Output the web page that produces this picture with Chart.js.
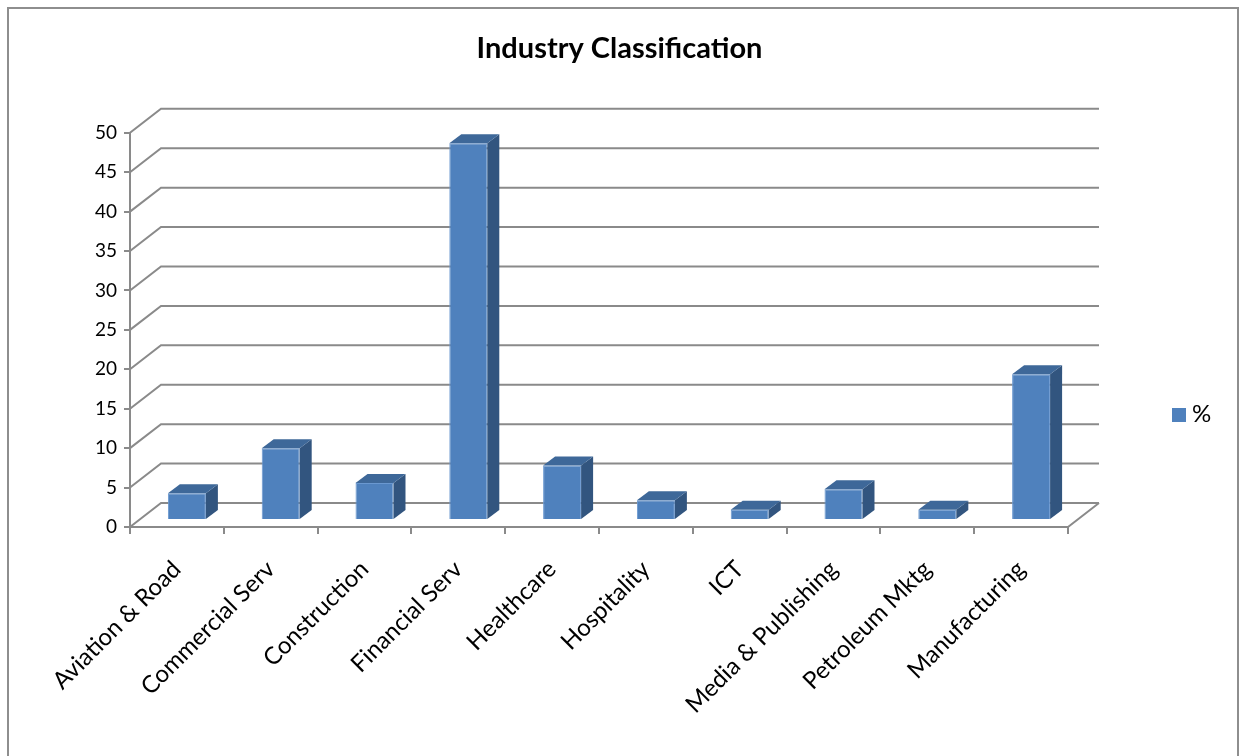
<!DOCTYPE html>
<html>
<head>
<meta charset="utf-8">
<script src="https://cdn.jsdelivr.net/npm/chart.js@4/dist/chart.umd.min.js"></script>
<style>
  html, body { margin: 0; padding: 0; background: #ffffff; }
  #wrap { width: 1239px; height: 756px; }
</style>
</head>
<body>
<div id="wrap"><canvas id="c" width="1239" height="756"></canvas></div>
<script>
const categories = ['Aviation & Road', 'Commercial Serv', 'Construction', 'Financial Serv', 'Healthcare',
  'Hospitality', 'ICT', 'Media & Publishing', 'Petroleum Mktg', 'Manufacturing'];
const seriesLabel = '%';
const percentValues = [3.4, 9.1, 4.7, 47.8, 6.9, 2.5, 1.3, 3.9, 1.3, 18.5];
const yTickMin = 0;
const yTickMax = 50;
const yTickStep = 5;

const FONT = 'Lato, "Liberation Sans", sans-serif';
const GRID = '#8a8a8a';
const FRONT = '#4f81bd';
const TOP = '#3e6899';
const SIDE = '#32557f';

// 3D geometry
const WALL_DX = 31, WALL_DY = -24;   // depth of floor / back wall
const BAR_OX = 10, BAR_OY = -7;      // bar front face offset from front plane
const BAR_DX = 12, BAR_DY = -9;      // bar depth

const frame3d = {
  id: 'frame3d',
  beforeDraw(chart) {
    const ctx = chart.ctx;
    ctx.save();
    ctx.fillStyle = '#ffffff';
    ctx.fillRect(0, 0, chart.width, chart.height);
    ctx.strokeStyle = '#8e8e8e';
    ctx.lineWidth = 2;
    ctx.strokeRect(8, 8, 1230, 760);
    ctx.restore();
  },
  beforeDatasetsDraw(chart) {
    const ctx = chart.ctx;
    const y = chart.scales.y, x = chart.scales.x;
    const L = x.left, R = x.right, B = y.bottom;
    ctx.save();
    ctx.strokeStyle = GRID;
    ctx.lineWidth = 2;
    ctx.beginPath();
    y.ticks.forEach(t => {
      const py = y.getPixelForValue(t.value);
      ctx.moveTo(L, py);
      ctx.lineTo(L + WALL_DX, py + WALL_DY);
      ctx.lineTo(R + WALL_DX, py + WALL_DY);
    });
    ctx.moveTo(R, B);
    ctx.lineTo(R + WALL_DX, B + WALL_DY);
    ctx.stroke();
    ctx.restore();
    ctx.save();
    ctx.translate(BAR_OX, BAR_OY);
  },
  afterDatasetsDraw(chart) {
    const ctx = chart.ctx;
    const meta = chart.getDatasetMeta(0);
    meta.data.forEach(el => {
      const p = el.getProps(['x', 'y', 'base', 'width'], true);
      const xl = p.x - p.width / 2, xr = p.x + p.width / 2;
      const top = Math.min(p.y, p.base), bot = Math.max(p.y, p.base);
      ctx.fillStyle = SIDE;
      ctx.beginPath();
      ctx.moveTo(xr, top);
      ctx.lineTo(xr + BAR_DX, top + BAR_DY);
      ctx.lineTo(xr + BAR_DX, bot + BAR_DY);
      ctx.lineTo(xr, bot);
      ctx.closePath();
      ctx.fill();
      ctx.fillStyle = TOP;
      ctx.beginPath();
      ctx.moveTo(xl, top);
      ctx.lineTo(xl + BAR_DX, top + BAR_DY);
      ctx.lineTo(xr + BAR_DX, top + BAR_DY);
      ctx.lineTo(xr, top);
      ctx.closePath();
      ctx.fill();
    });
    ctx.restore();
  },
  afterDraw(chart) {
    const ctx = chart.ctx;
    const ds = chart.data.datasets[0];
    ctx.save();
    ctx.fillStyle = ds.backgroundColor;
    ctx.fillRect(1172, 408, 14, 14);
    ctx.fillStyle = '#000000';
    ctx.font = '24px ' + FONT;
    ctx.textBaseline = 'middle';
    ctx.textAlign = 'left';
    ctx.fillText(ds.label, 1192, 414);
    ctx.restore();
  }
};

new Chart(document.getElementById('c'), {
  type: 'bar',
  data: {
    labels: categories,
    datasets: [{
      label: seriesLabel,
      data: percentValues,
      backgroundColor: FRONT,
      borderColor: '#6a98d0',
      borderWidth: 1,
      categoryPercentage: 1,
      barPercentage: 0.405,
      yAxisID: 'y'
    }]
  },
  options: {
    responsive: false,
    animation: false,
    layout: { padding: { left: 0, right: 0, top: 0, bottom: 0 } },
    plugins: {
      legend: { display: false },
      tooltip: { enabled: false },
      title: {
        display: true,
        text: 'Industry Classification',
        color: '#000000',
        font: { family: FONT, size: 29, weight: 'bold', lineHeight: 1.2 },
        padding: { top: 31, bottom: 67 }
      }
    },
    scales: {
      x: {
        afterFit(s) { s.height = 229; },
        grid: { display: true, drawOnChartArea: false, tickLength: 7, color: GRID, lineWidth: 2, offset: true },
        border: { display: true, color: GRID, width: 2 },
        ticks: {
          minRotation: 45, maxRotation: 45, autoSkip: false,
          color: '#000000', padding: 21,
          font: { family: FONT, size: 24 }
        }
      },
      y: {
        min: yTickMin, max: yTickMax,
        afterFit(s) { s.width = 130; },
        grid: { display: true, drawOnChartArea: false, tickLength: 6, color: GRID, lineWidth: 2 },
        border: { display: true, color: GRID, width: 2 },
        ticks: {
          stepSize: yTickStep, color: '#000000', padding: 7,
          font: { family: FONT, size: 19 }
        }
      },
      legendSpace: {
        type: 'linear',
        position: 'right',
        display: true,
        min: 0, max: 1,
        afterFit(s) { s.width = 171; },
        grid: { display: false, drawTicks: false },
        border: { display: false },
        ticks: { display: false }
      }
    }
  },
  plugins: [frame3d]
});
</script>
</body>
</html>
